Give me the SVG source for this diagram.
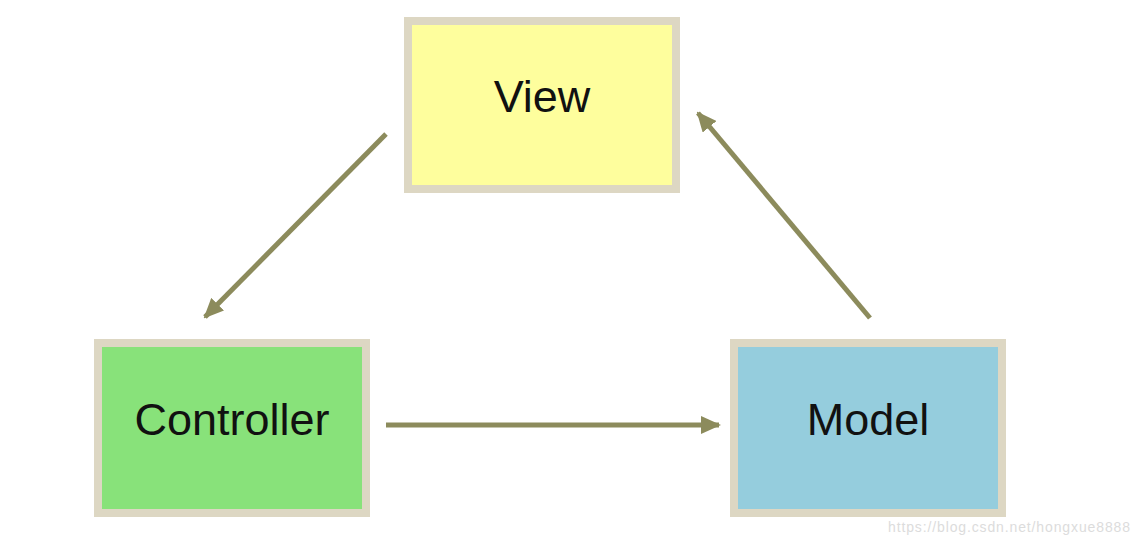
<svg xmlns="http://www.w3.org/2000/svg" width="1140" height="546" viewBox="0 0 1140 546">
<defs>
<style>
.box{stroke:#ddd7c3;stroke-width:8}
.lbl{font-family:"Liberation Sans",Arial,sans-serif;font-size:45px;fill:#111;text-anchor:middle}
.conn{stroke:#8c8b5c;stroke-width:5;fill:none}
.wm{font-family:"Liberation Sans",Arial,sans-serif;font-size:14px;fill:#dcdcdc}
</style>
<marker id="ah" markerUnits="userSpaceOnUse" markerWidth="20" markerHeight="18" refX="18" refY="9" orient="auto">
<path d="M0,0 L20,9 L0,18 Z" fill="#8c8b5c"/>
</marker>
</defs>
<rect width="1140" height="546" fill="#fff"/>
<g id="connectors">
<line class="conn" x1="386" y1="134" x2="205" y2="317" marker-end="url(#ah)"/>
<line class="conn" x1="870" y1="318" x2="698" y2="113" marker-end="url(#ah)"/>
<line class="conn" x1="386" y1="425" x2="719" y2="425" marker-end="url(#ah)"/>
</g>
<g id="view">
<rect class="box" x="408" y="21" width="268" height="168" fill="#fefe9d"/>
<text class="lbl" x="542" y="112">View</text>
</g>
<g id="controller">
<rect class="box" x="98" y="343" width="268" height="170" fill="#88e27a"/>
<text class="lbl" x="232" y="435">Controller</text>
</g>
<g id="model">
<rect class="box" x="734" y="343" width="268" height="170" fill="#95cddd"/>
<text class="lbl" x="868" y="435">Model</text>
</g>
<text class="wm" x="888" y="532" textLength="242">https://blog.csdn.net/hongxue8888</text>
</svg>
